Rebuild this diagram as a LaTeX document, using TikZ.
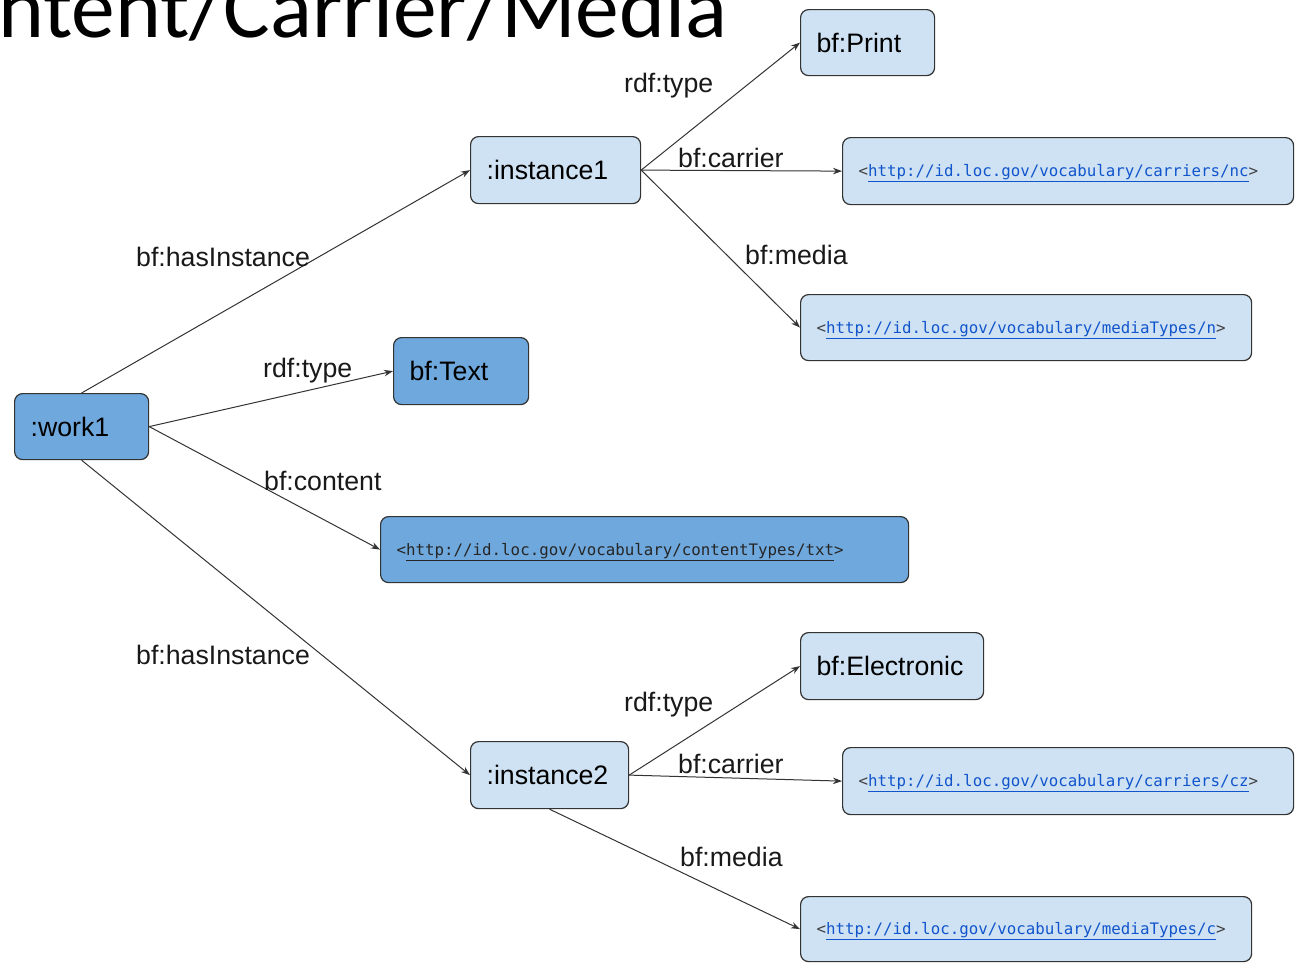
\documentclass[tikz,border=0pt]{standalone}
\usepackage{fontspec}
\setmainfont{Liberation Sans}
\newfontfamily\titlefont{Carlito}
\newfontfamily\urlfont{DejaVu Sans Mono}
\usetikzlibrary{arrows.meta}
\definecolor{lightbox}{HTML}{CFE2F3}
\definecolor{darkbox}{HTML}{6FA8DC}
\definecolor{linkblue}{HTML}{1155CC}
\definecolor{edgegray}{HTML}{333333}
\newcommand{\ulink}[1]{\textcolor{black!75}{<}\textcolor{linkblue}{\underline{#1}}\textcolor{black!75}{>}}
\newcommand{\dlink}[1]{\textcolor{black!85}{<\underline{#1}>}}
\begin{document}
\begin{tikzpicture}[x=1pt,y=-1pt,
  box/.style={draw=black!80, line width=1.2pt, rounded corners=8pt, inner xsep=16pt, inner ysep=0pt,
    align=left, anchor=north west, font=\fontsize{26.7}{30}\selectfont, text height=19.5pt, text depth=0pt},
  lite/.style={box, fill=lightbox},
  dark/.style={box, fill=darkbox},
  urlbox/.style={box, font=\urlfont\fontsize{15.8}{18}\selectfont, text height=11.5pt, text depth=0pt},
  arr/.style={draw=edgegray, line width=1pt, -{Stealth[length=9pt,width=6.5pt]}},
  lbl/.style={anchor=base west, inner sep=0pt, font=\fontsize{26.7}{30}\selectfont, text=black!90}
]
\useasboundingbox (0,0) rectangle (1298,962);
\clip (0,0) rectangle (1298,962);
% title
\node[anchor=base west, inner sep=0pt, font=\titlefont\fontsize{87.5}{90}\selectfont] (title) at (-2,37) {ntent/Carrier/Media};
% nodes
\node[dark, text width=102pt, minimum height=66pt] (w) at (14,393) {:work1};
\node[lite, text width=138pt, minimum height=67pt] (i1) at (470,136) {:instance1};
\node[lite, text width=102pt, minimum height=66pt] (print) at (800,9) {bf:Print};
\node[lite, urlbox, text width=419pt, minimum height=67pt] (c1) at (842,137) {\ulink{http://id.loc.gov/vocabulary/carriers/nc}};
\node[lite, urlbox, text width=419pt, minimum height=66pt] (m1) at (800,294) {\ulink{http://id.loc.gov/vocabulary/mediaTypes/n}};
\node[dark, text width=103pt, minimum height=67pt] (text) at (393,337) {bf:Text};
\node[dark, urlbox, text width=496pt, minimum height=66pt] (ct) at (380,516) {\dlink{http://id.loc.gov/vocabulary/contentTypes/txt}};
\node[lite, text width=151pt, minimum height=67pt] (el) at (800,632) {bf:Electronic};
\node[lite, text width=126pt, minimum height=67pt] (i2) at (470,741) {:instance2};
\node[lite, urlbox, text width=419pt, minimum height=67pt] (c2) at (842,747) {\ulink{http://id.loc.gov/vocabulary/carriers/cz}};
\node[lite, urlbox, text width=419pt, minimum height=65pt] (m2) at (800,896) {\ulink{http://id.loc.gov/vocabulary/mediaTypes/c}};
% edges
\draw[arr] (w.north) -- (i1.west);
\draw[arr] (w.east) -- (text.west);
\draw[arr] (w.east) -- (ct.west);
\draw[arr] (w.south) -- (i2.west);
\draw[arr] (i1.east) -- (print.west);
\draw[arr] (i1.east) -- (c1.west);
\draw[arr] (i1.east) -- (m1.west);
\draw[arr] (i2.east) -- (el.west);
\draw[arr] (i2.east) -- (c2.west);
\draw[arr] (i2.south) -- (m2.west);
% labels
\node[lbl] (l1) at (136,266) {bf:hasInstance};
\node[lbl] (l2) at (263,377) {rdf:type};
\node[lbl] (l3) at (264,490) {bf:content};
\node[lbl] (l4) at (136,664) {bf:hasInstance};
\node[lbl] (l5) at (624,92) {rdf:type};
\node[lbl] (l6) at (678,167) {bf:carrier};
\node[lbl] (l7) at (745,264) {bf:media};
\node[lbl] (l8) at (624,711) {rdf:type};
\node[lbl] (l9) at (678,773) {bf:carrier};
\node[lbl] (l10) at (680,866) {bf:media};
\end{tikzpicture}
\end{document}
